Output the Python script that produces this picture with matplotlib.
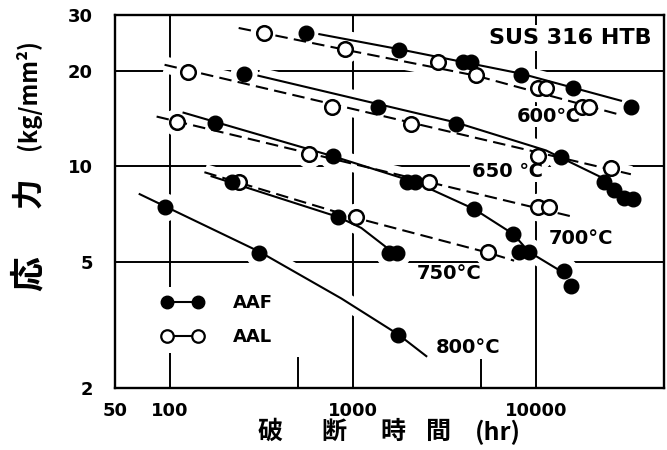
import matplotlib
matplotlib.use("Agg")
import matplotlib.pyplot as plt
from matplotlib.lines import Line2D
from matplotlib.legend_handler import HandlerLine2D

# rupture time (hr) / stress (kg/mm2)
t600_aaf = [556, 1786, 4000, 4415, 8280, 15920, 32960]
s600_aaf = [26.3, 23.3, 21.3, 21.3, 19.4, 17.6, 15.4]
t600_aal = [324, 908, 2917, 4710, 10260, 11350, 17820, 19460]
s600_aal = [26.3, 23.4, 21.3, 19.4, 17.6, 17.6, 15.4, 15.4]

t650_aaf = [252, 1374, 3660, 13680, 23500, 26670, 30210, 33800]
s650_aaf = [19.6, 15.4, 13.55, 10.67, 8.91, 8.41, 7.94, 7.88]
t650_aal = [126, 771, 2080, 10260, 25650]
s650_aal = [19.9, 15.4, 13.55, 10.75, 9.86]

t700_aaf = [175, 780, 1977, 2188, 4590, 7490, 8070, 9160, 14220, 15520]
s700_aaf = [13.74, 10.75, 8.91, 8.91, 7.33, 6.12, 5.37, 5.37, 4.69, 4.18]
t700_aal = [108.5, 577, 2606, 10260, 11780]
s700_aal = [13.83, 10.9, 8.91, 7.44, 7.44]

t750_aaf = [216.6, 830.8, 1578, 1745]
s750_aaf = [8.91, 6.92, 5.34, 5.34]
t750_aal = [239.4, 1042, 5470]
s750_aal = [8.91, 6.92, 5.37]

t800_aaf = [93.3, 307.6, 1766]
s800_aaf = [7.44, 5.34, 2.93]

# hand drawn trend lines (vertices)
c600_aaf = ([654, 1786, 8280, 29100], [26.1, 23.4, 19.6, 16.1])
c600_aal = ([237, 908, 4710, 27990], [27.3, 23.3, 19.3, 14.6])
c650_aaf = ([304, 3660, 11340, 22640], [19.3, 13.74, 11.22, 9.24])
c650_aal = ([93.3, 32960], [20.9, 9.44])
c700_aaf = ([118.5, 780, 2188, 4590, 7490, 9160, 13020],
            [14.76, 10.75, 8.91, 7.33, 6.12, 5.37, 4.75])
c700_aal = ([84.4, 16110], [14.35, 6.92])
c750_aaf = ([168.5, 831, 1110, 1659], [9.30, 6.92, 6.39, 5.34])
c750_aal = ([154, 1042, 5470, 7585], [9.58, 6.87, 5.34, 5.04])
c800_aaf = ([68.2, 307.6, 863, 1766, 2513], [8.17, 5.38, 3.83, 2.95, 2.52])

solid_lines = [c600_aaf, c650_aaf, c700_aaf, c750_aaf, c800_aaf]
dashed_lines = [c600_aal, c650_aal, c700_aal, c750_aal]
aaf_sets = [(t600_aaf, s600_aaf), (t650_aaf, s650_aaf), (t700_aaf, s700_aaf),
            (t750_aaf, s750_aaf), (t800_aaf, s800_aaf)]
aal_sets = [(t600_aal, s600_aal), (t650_aal, s650_aal), (t700_aal, s700_aal),
            (t750_aal, s750_aal)]

x_ticks = [50, 100, 1000, 10000]
y_ticks = [2, 5, 10, 20, 30]
x_grid = [100, 1000, 10000]
y_grid = [5, 10, 20]

temp_labels = [("600℃", 11780, 14.35), ("650 ℃", 6950, 9.65),
               ("700°C", 17600, 5.91), ("750°C", 3350, 4.585),
               ("800°C", 4255, 2.69)]

fig = plt.figure(figsize=(6.67, 4.5), dpi=100)
ax = fig.add_axes([0.1724, 0.1378, 0.8231, 0.8289])
ax.set_xscale("log")
ax.set_yscale("log")
ax.set_xlim(50, 50000)
ax.set_ylim(2, 30)

for x in x_grid:
    ax.axvline(x, color="black", lw=1.4, zorder=0.5)
for y in y_grid:
    ax.axhline(y, color="black", lw=1.4, zorder=0.5)
# short stubs at the bottom
ax.axvline(500, ymin=0, ymax=0.08, color="black", lw=1.4, zorder=0.5)
ax.axvline(5000, ymin=0, ymax=0.075, color="black", lw=1.4, zorder=0.5)

# white halos break the grid where curves pass
for c in solid_lines + dashed_lines:
    ax.plot(c[0], c[1], color="white", lw=12, solid_capstyle="butt", zorder=1)
for t, s in aaf_sets + aal_sets:
    ax.plot(t, s, "o", ms=19, color="white", zorder=1)

for c in solid_lines:
    ax.plot(c[0], c[1], color="black", lw=1.5, zorder=2)
for c in dashed_lines:
    ax.plot(c[0], c[1], color="black", lw=1.5, dashes=(6, 3), zorder=2)

for t, s in aal_sets:
    ax.plot(t, s, "o", ms=10.5, mfc="white", mec="black", mew=1.8,
            ls="none", zorder=3)
for t, s in aaf_sets:
    ax.plot(t, s, "o", ms=10.5, mfc="black", mec="black", ls="none", zorder=4)

for txt, x, y in temp_labels:
    ax.text(x, y, txt, ha="center", va="center", fontsize=14,
            fontweight="bold", zorder=1.5,
            bbox=dict(facecolor="white", edgecolor="none", pad=1))
ax.text(15330, 25.4, "SUS 316 HTB", ha="center", va="center", fontsize=16,
        fontweight="bold", zorder=1.5,
        bbox=dict(facecolor="white", edgecolor="none", pad=2))

h_aaf = Line2D([], [], color="black", lw=1.5, marker="o", ms=9,
               mfc="black", mec="black")
h_aal = Line2D([], [], color="black", lw=1.5, marker="o", ms=9,
               mfc="white", mec="black", mew=1.6)
leg = ax.legend([h_aaf, h_aal], ["AAF", "AAL"], loc="center left",
                bbox_to_anchor=(0.038, 0.182), numpoints=2,
                handlelength=4.4, handletextpad=0.55, labelspacing=0.9,
                borderpad=0.4, borderaxespad=0, frameon=True,
                fancybox=False, framealpha=1, edgecolor="none",
                prop=dict(size=13, weight="bold"),
                handler_map={Line2D: HandlerLine2D(marker_pad=1.35)})

ax.set_xticks(x_ticks)
ax.set_xticklabels([str(v) for v in x_ticks])
ax.set_yticks(y_ticks)
ax.set_yticklabels([str(v) for v in y_ticks])
ax.minorticks_off()
ax.tick_params(length=0, labelsize=13)
ax.tick_params(axis="x", pad=10)
ax.tick_params(axis="y", pad=16)
for lab in ax.get_xticklabels() + ax.get_yticklabels():
    lab.set_fontweight("bold")
for sp in ax.spines.values():
    sp.set_linewidth(1.7)

cjk = ["Noto Sans CJK JP", "DejaVu Sans"]
fig.text(0.042, 0.393, "応", rotation=90, ha="center", va="center",
         fontsize=25, family=cjk, fontweight="bold")
fig.text(0.042, 0.571, "力", rotation=90, ha="center", va="center",
         fontsize=22, family=cjk, fontweight="bold")
fig.text(0.042, 0.789, "(kg/mm²)", rotation=90, ha="center", va="center",
         fontsize=17, family=cjk, fontweight="bold")
for txt, x in [("破", 0.405), ("断", 0.501), ("時", 0.589), ("間", 0.657),
               ("(hr)", 0.747)]:
    fig.text(x, 0.04, txt, ha="center", va="center", fontsize=18,
             family=cjk, fontweight="bold")

fig.savefig("out.png", dpi=100, facecolor="white")
